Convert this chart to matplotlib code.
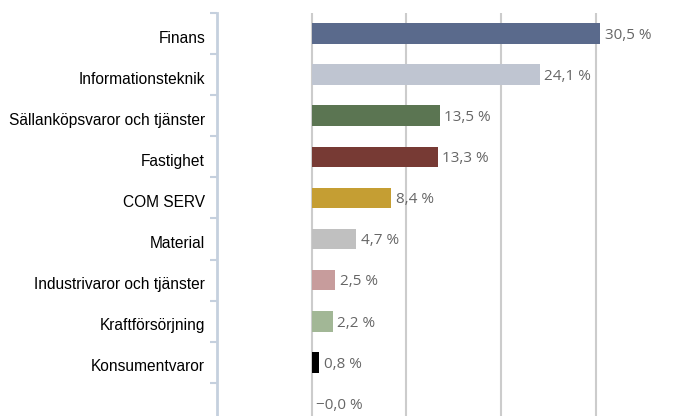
import matplotlib.pyplot as plt
import matplotlib.transforms as mtransforms
import numpy as np

# Sector weights (%)
categories = ["Finans", "Informationsteknik", "Sällanköpsvaror och tjänster",
              "Fastighet", "COM SERV", "Material", "Industrivaror och tjänster",
              "Kraftförsörjning", "Konsumentvaror", ""]
values = [30.5, 24.1, 13.5, 13.3, 8.4, 4.7, 2.5, 2.2, 0.8, -0.01]
value_labels = ["30,5 %", "24,1 %", "13,5 %", "13,3 %", "8,4 %", "4,7 %",
                "2,5 %", "2,2 %", "0,8 %", "\u22120,0 %"]
colors = ["#5a6a8c", "#bfc5d1", "#5b7552", "#773a34", "#c59e33", "#c0c0c0",
          "#c79c9c", "#a2b796", "#000000", "#ffffff"]

fig = plt.figure(figsize=(6.8, 4.16), dpi=100)
ax = fig.add_axes([217 / 680, -8 / 416, 463 / 680, 411 / 416])

y = np.arange(len(categories))
ax.barh(y, values, height=0.5, color=colors, zorder=3)

for yi, v, lab in zip(y, values, value_labels):
    ax.annotate(lab, xy=(max(v, 0), yi), xytext=(3.3, -1.3), textcoords="offset points",
                ha="left", va="center", fontsize=11, color="#666666",
                family="Open Sans")

ax.set_xlim(-10, 38.9)
ax.set_ylim(len(categories) - 0.5, -0.5)

# vertical grid lines
for gx in [0, 10, 20, 30]:
    ax.axvline(gx, color="#cccccc", lw=1.5, zorder=1)

ax.set_xticks([])
ax.set_yticks(y)
ax.set_yticklabels(categories, fontsize=11.2, family="Liberation Sans", color="#000000")
ax.tick_params(axis="y", which="major", length=0, pad=8.6)
ax.set_yticks(np.arange(-0.5, len(categories), 1), minor=True)
ax.tick_params(axis="y", which="minor", length=5, width=1.5, color="#c5d0de")

# labels sit a little below the band centre in the original
shift = mtransforms.ScaledTranslation(0, -3 / 100, fig.dpi_scale_trans)
for lbl in ax.get_yticklabels():
    lbl.set_transform(lbl.get_transform() + shift)

for s in ["top", "right", "bottom"]:
    ax.spines[s].set_visible(False)
ax.spines["left"].set_color("#c5d0de")
ax.spines["left"].set_linewidth(2)

fig.savefig("out.png", dpi=100)
